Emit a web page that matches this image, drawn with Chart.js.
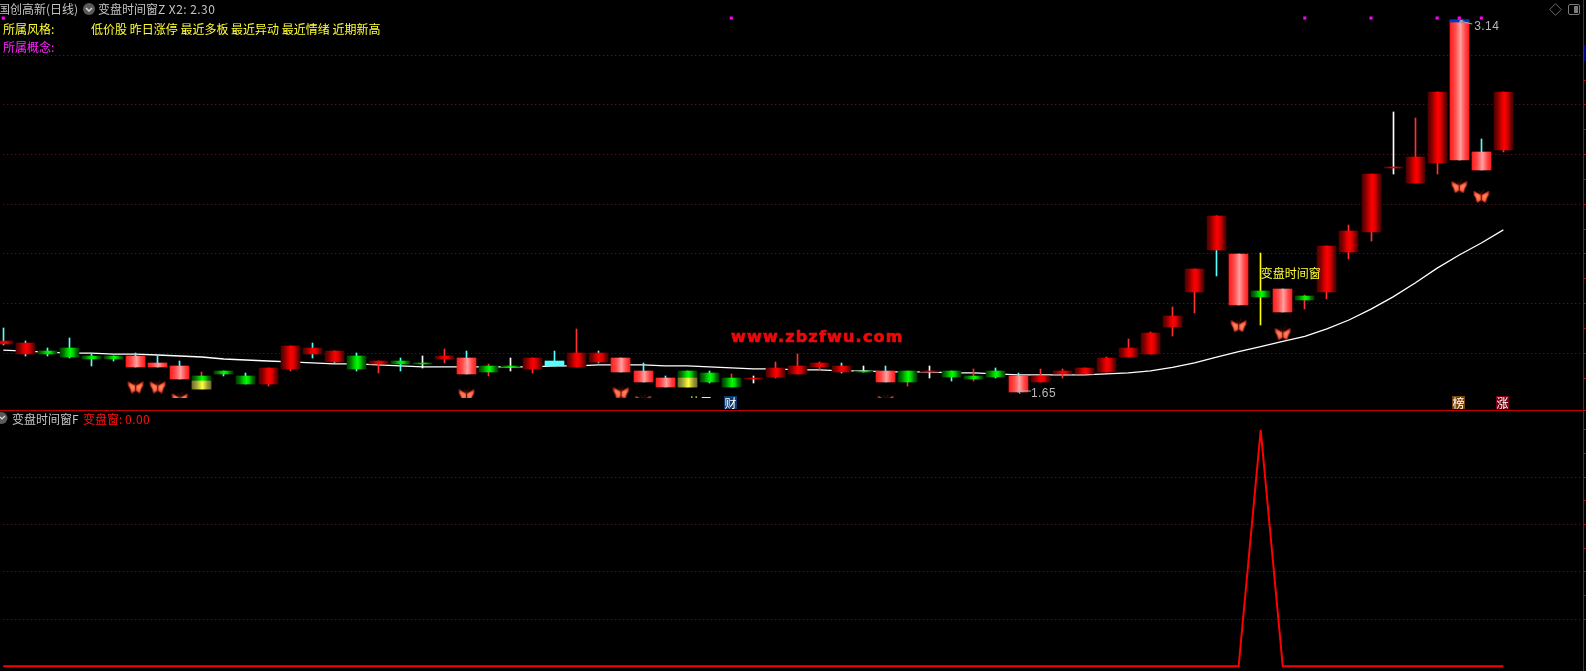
<!DOCTYPE html>
<html><head><meta charset="utf-8">
<style>
html,body{margin:0;padding:0;background:#000;width:1586px;height:671px;overflow:hidden}
canvas{position:absolute;left:0;display:block}
.t{position:absolute;white-space:pre;font:12px/18px "Noto Sans CJK SC","Liberation Sans",sans-serif}
.g{color:#c4c4c4}.y{color:#ffff33}.m{color:#ff22ff}.r{color:#ff1010}
.l{letter-spacing:.45px}
.b{position:absolute;width:13px;height:13px;color:#fff;font:12px/13px "Noto Sans CJK SC",sans-serif;text-align:center}
svg{position:absolute}
</style>
<script src="https://cdn.jsdelivr.net/npm/chart.js@4/dist/chart.umd.min.js"></script>
</head><body>
<canvas id="top" width="1586" height="410" style="top:0"></canvas>
<canvas id="bot" width="1586" height="260" style="top:411px"></canvas>
<div style="position:absolute;left:0;top:410px;width:1586px;height:1px;background:#c00000"></div>
<div style="position:absolute;left:1584px;top:45px;width:2px;height:16px;background:#000090"></div>

<span class="t g" style="left:-2px;top:0">国创高新(日线)</span>
<svg style="left:83px;top:3px" width="12" height="12"><circle cx="6" cy="6" r="6" fill="#5a5a5a"/><path d="M3 5l3 3 3-3" stroke="#ddd" stroke-width="1.4" fill="none"/></svg>
<span class="t g" style="left:98px;top:0">变盘时间窗<span class="l">Z X2: 2.30</span></span>
<span class="t y" style="left:3px;top:20px">所属风格:</span>
<span class="t y" style="left:91px;top:20px">低价股 昨日涨停 最近多板 最近异动 最近情绪 近期新高</span>
<span class="t m" style="left:3px;top:38px">所属概念:</span>
<svg style="left:1549px;top:3px" width="32" height="13"><path d="M6.5 .7L12.3 6.5 6.5 12.3 .7 6.5z" stroke="#6a6a6a" fill="none"/><rect x="19.5" y="1.5" width="11" height="10" rx="1.5" stroke="#7a7a7a" fill="none"/><rect x="25" y="3" width="4" height="7" fill="#7a7a7a"/></svg>
<svg style="left:0;top:412px" width="8" height="12"><circle cx="1.5" cy="6" r="6" fill="#5a5a5a"/><path d="M0 5l2 2 3-3" stroke="#ddd" stroke-width="1.2" fill="none"/></svg>
<span class="t g" style="left:12px;top:410px">变盘时间窗F</span>
<span class="t r" style="left:83px;top:410px">变盘窗: <span class="l">0.00</span></span>
<span class="b" style="left:724px;top:396px;background:#0a3a70">财</span>
<span class="b" style="left:1452px;top:396px;background:#7a4208">榜</span>
<span class="b" style="left:1496px;top:396px;background:#7a0010">涨</span>

<script>
const opens=[1.837,1.797,1.809,1.821,1.789,1.789,1.745,1.745,1.697,1.709,1.729,1.709,1.676,1.737,1.797,1.765,1.789,1.757,1.769,1.761,1.777,1.717,1.749,1.749,1.737,1.749,1.745,1.765,1.725,1.684,1.664,1.729,1.721,1.701,1.697,1.705,1.717,1.745,1.725,1.729,1.684,1.729,1.725,1.729,1.709,1.729,1.644,1.684,1.717,1.717,1.725,1.785,1.797,1.906,2.047,2.216,1.994,2.051,1.966,2.031,2.047,2.208,2.288,2.546,2.486,2.566,2.578,2.538,2.619];
const closes=[1.850,1.841,1.797,1.785,1.777,1.777,1.789,1.761,1.749,1.656,1.717,1.676,1.741,1.829,1.821,1.809,1.737,1.769,1.757,1.757,1.789,1.781,1.725,1.745,1.781,1.769,1.801,1.801,1.781,1.729,1.701,1.664,1.684,1.664,1.701,1.741,1.749,1.761,1.749,1.725,1.729,1.684,1.729,1.705,1.697,1.705,1.709,1.709,1.729,1.741,1.781,1.821,1.882,1.950,2.140,2.353,2.200,2.027,2.059,2.015,2.232,2.293,2.522,2.550,2.590,2.852,3.142,2.611,2.852];
const highs=[1.902,1.850,1.821,1.862,1.797,1.789,1.801,1.789,1.769,1.725,1.729,1.721,1.741,1.829,1.841,1.809,1.801,1.769,1.781,1.789,1.817,1.809,1.757,1.781,1.781,1.809,1.898,1.809,1.781,1.761,1.709,1.729,1.729,1.717,1.709,1.765,1.797,1.765,1.761,1.749,1.749,1.729,1.749,1.729,1.737,1.741,1.721,1.737,1.737,1.741,1.785,1.858,1.886,1.986,2.140,2.353,2.200,2.204,2.059,2.035,2.232,2.317,2.522,2.772,2.748,2.852,3.142,2.663,2.852];
const lows=[1.833,1.789,1.789,1.781,1.749,1.769,1.745,1.745,1.697,1.656,1.709,1.676,1.668,1.729,1.781,1.761,1.729,1.721,1.729,1.741,1.761,1.717,1.709,1.729,1.721,1.749,1.745,1.761,1.725,1.684,1.664,1.664,1.680,1.664,1.680,1.701,1.717,1.733,1.721,1.725,1.684,1.668,1.701,1.688,1.688,1.701,1.644,1.684,1.701,1.717,1.725,1.785,1.797,1.870,1.962,2.111,1.994,1.914,1.966,1.978,2.019,2.180,2.252,2.522,2.486,2.522,2.578,2.538,2.611];
// R red, P pink, G green, C cyan
const bodyKinds="RRGGGGPPPGGGRRRRGRGGRPGGRCRRPPPGGGRRRRRGPGRGGGPRRRRRRRRRPGPGRRRRRRPPR".split("");
// c cyan, r red, w white, y yellow
const wickKinds=("ccccccccc"+"r"+"cc"+"rr"+"ccc"+"r"+"c"+"w"+"r"+"c"+"r"+"w"+"r"+"c"+"r"+"cccccc"+"r"+"w"+"rrr"+"c"+"w"+"c"+"r"+"w"+"c"+"r"+"cc"+"rrrrrrrr"+"cc"+"y"+"c"+"rrrr"+"w"+"rr"+"cc"+"r").split("");
const maLine=[1.813,1.809,1.805,1.801,1.801,1.797,1.797,1.793,1.789,1.785,1.777,1.773,1.769,1.765,1.761,1.757,1.757,1.753,1.749,1.745,1.745,1.745,1.745,1.745,1.745,1.749,1.749,1.753,1.753,1.753,1.749,1.749,1.745,1.741,1.737,1.737,1.733,1.733,1.729,1.729,1.725,1.725,1.725,1.721,1.721,1.717,1.713,1.713,1.713,1.713,1.717,1.721,1.729,1.743,1.761,1.785,1.807,1.827,1.848,1.868,1.898,1.934,1.978,2.027,2.083,2.143,2.196,2.244,2.297];
const yellowIndex=[9,31];
const yellowTop=[1.688,1.701];
const yellowBottom=[1.656,1.664];
const capIndex=[66];
const capTop=[3.142];
const capBottom=[3.134];
const butterflyIndex=[6,7,8,21,28,29,40,56,58,66,67];
const butterflyPrice=[1.6655,1.6655,1.617,1.634,1.642,1.608,1.608,1.912,1.880,2.472,2.433];
const markerIndex=[0,33,59,62,65,66,67];
const markerPrice=3.150;
const priceTicks=[1.7,1.8,1.9,2.0,2.1,2.2,2.3,2.4,2.5,2.6,2.7,2.8,2.9,3.0];
const indicatorValues=opens.map(()=>0);
indicatorValues[57]=1;
const indicatorTicks=[0.2,0.3,0.4,0.5,0.6,0.7,0.8,0.9,1.0];

const wickColors={c:"#55ffff",r:"#ff3030",w:"#ffffff",y:"#ffff00"};
const bodyStops={
 R:[[0,"#4c0000"],[.2,"#880000"],[.4,"#dc0000"],[.55,"#ff0000"],[.7,"#d80000"],[.85,"#860000"],[1,"#4c0000"]],
 P:[[0,"#ff1c1c"],[.3,"#ff5050"],[.55,"#ffa0a0"],[.8,"#ff4848"],[1,"#ff1c1c"]],
 G:[[0,"#003c00"],[.2,"#007800"],[.4,"#00d000"],[.55,"#00ff00"],[.7,"#00cc00"],[.85,"#007000"],[1,"#003c00"]],
 Y:[[0,"#70702a"],[.25,"#a8a838"],[.55,"#ffff40"],[.8,"#a0a038"],[1,"#70702a"]]
};
function grad(c,kind){
 if(c.type!=="data")return "#f00";
 const x=c.chart.scales.x.getPixelForValue(c.raw.x);
 if(!isFinite(x))return "#f00";
 const l=Math.round(x-9.5);
 const g=c.chart.ctx.createLinearGradient(l,0,l+19,0);
 bodyStops[kind].forEach(s=>g.addColorStop(s[0],s[1]));
 return g;
}
function sprite(){
 const s=document.createElement("canvas");s.width=17;s.height=14;
 const k=s.getContext("2d");
 function wing(f){
  k.save();if(f){k.translate(17,0);k.scale(-1,1);}
  k.beginPath();k.moveTo(8.3,6);k.lineTo(1,2);k.quadraticCurveTo(.4,6,2.8,8.6);k.lineTo(4.4,13.4);k.quadraticCurveTo(7,12.4,8.3,10.5);k.closePath();
  const g=k.createRadialGradient(5,7.5,0,5,7.5,6.5);g.addColorStop(0,"#ff8a60");g.addColorStop(.6,"#ff6040");g.addColorStop(1,"#b82a18");
  k.fillStyle=g;k.fill();k.strokeStyle="rgba(170,35,20,.95)";k.lineWidth=.9;k.stroke();k.restore();
 }
 wing(false);wing(true);
 k.strokeStyle="#5a1008";k.lineWidth=1;
 k.beginPath();k.moveTo(8.5,12);k.lineTo(8.5,4);k.moveTo(8.5,5);k.lineTo(11,.5);k.moveTo(8,5);k.lineTo(6.5,1.5);k.stroke();
 return s;
}
const butterfly=sprite();
const crisp={id:"crisp",afterDatasetsUpdate(chart){
 chart.getSortedVisibleDatasetMetas().forEach(m=>{
  if(m.type!=="bar")return;
  m.data.forEach(el=>{
   const w=el.width,left=Math.round(el.x-w/2);
   el.x=left+w/2;el.y=Math.round(el.y);el.base=Math.round(el.base);
  });
 });
}};
const notes={id:"notes",afterDatasetsDraw(chart){
 const c=chart.ctx,xs=chart.scales.x,ys=chart.scales.y;
 c.save();c.textBaseline="middle";
 c.font='12px "Noto Sans CJK SC"';c.fillStyle="#ffff33";
 c.fillText("变盘时间窗",xs.getPixelForValue(57),ys.getPixelForValue(2.123));
 function mark(i,p,dy,txt,tx){
  const x=xs.getPixelForValue(i),y=ys.getPixelForValue(p);
  c.strokeStyle="#b0b0b0";c.lineWidth=1;c.beginPath();
  c.moveTo(x+13,y+dy);c.lineTo(x+.5,y+dy-(dy>2?3:0));c.moveTo(x+.5,y+dy-(dy>2?3:0));c.lineTo(x+4,y+dy-(dy>2?4:3));c.moveTo(x+.5,y+dy-(dy>2?3:0));c.lineTo(x+2,y+dy+(dy>2?0:3));c.stroke();
  c.font='12px "Liberation Sans"';c.fillStyle="#b8b8b8";c.letterSpacing=".4px";c.fillText(txt,x+tx,y+dy+3);c.letterSpacing="0px";
 }
 mark(46,1.644,-1,"1.65",13);
 mark(66,3.142,4,"3.14",15);
 c.font='bold 16px "DejaVu Sans"';c.letterSpacing="1.2px";c.fillStyle="#f00808";c.strokeStyle="#f00808";c.lineWidth=.7;c.textBaseline="alphabetic";
 c.fillText("www.zbzfwu.com",731,342);c.strokeText("www.zbzfwu.com",731,342);
 c.letterSpacing="0px";
 c.beginPath();c.rect(680,380,40,18);c.clip();
 c.font='12px "Noto Sans CJK SC"';c.fillStyle="#ffff33";c.textBaseline="middle";
 c.fillText("共用",688,402);
 c.restore();
}};
function xScale(){return {type:"linear",min:0,max:71.61,display:false,offset:false,grid:{display:false}};}
function yAxis(min,max,ticks,dot){
 return {min,max,position:"right",offset:false,
  ticks:{display:false,autoSkip:false},
  afterBuildTicks(a){a.ticks=ticks.map(v=>({value:v}));},
  afterFit(a){a.width=3;},
  border:{color:"#c00000",width:1,dash:[1,3]},
  grid:{color:c=>(c.tick&&Math.round(c.tick.value*10)%2===0&&Math.round(c.tick.value*10)!==10)?dot:"rgba(0,0,0,0)",
   lineWidth:1,tickColor:"#c00000",tickLength:3,tickWidth:1,tickBorderDash:[]}};
}
const barBase={type:"bar",grouped:false,barPercentage:1,categoryPercentage:1,clip:false,borderWidth:0};
const xy=(i,lo,hi)=>({x:i,y:[lo,hi]});
new Chart(document.getElementById("top"),{
 type:"bar",
 data:{datasets:[
  {type:"line",order:9,clip:false,data:maLine.map((v,i)=>({x:i,y:v})),borderColor:"#fff",borderWidth:1.3,pointRadius:0,tension:0},
  {...barBase,order:8,barThickness:1,data:opens.map((_,i)=>xy(i,lows[i],highs[i])),backgroundColor:c=>c.type==="data"?wickColors[wickKinds[c.dataIndex]]:"#fff"},
  {...barBase,order:7,barThickness:19,data:opens.map((o,i)=>xy(i,o,closes[i])),backgroundColor:c=>{
     if(c.type!=="data")return "#f00";
     const k=bodyKinds[c.dataIndex];
     return k==="C"?"#55ffff":grad(c,k);}},
  {...barBase,order:6,barThickness:19,data:yellowIndex.map((v,i)=>xy(v,yellowBottom[i],yellowTop[i])),backgroundColor:c=>grad(c,"Y")},
  {...barBase,order:5,barThickness:19,data:capIndex.map((v,i)=>xy(v,capBottom[i],capTop[i])),backgroundColor:"#0038c8"},
  {type:"scatter",order:2,clip:{left:5,top:5,right:5,bottom:-12},data:butterflyIndex.map((v,i)=>({x:v,y:butterflyPrice[i]})),pointStyle:butterfly,pointRadius:8},
  {type:"scatter",order:1,clip:false,data:markerIndex.map(v=>({x:v,y:markerPrice})),pointStyle:"rect",pointRadius:2.2,pointBorderWidth:0,backgroundColor:"#ff00ff",borderWidth:0}
 ]},
 options:{responsive:false,animation:false,devicePixelRatio:1,events:[],
  layout:{autoPadding:false,padding:{left:3.3,right:0,top:0,bottom:0}},
  plugins:{legend:{display:false},tooltip:{enabled:false}},
  scales:{x:xScale(),y:yAxis(1.5716,3.2227,priceTicks,"#901010")}},
 plugins:[crisp,notes]
});
new Chart(document.getElementById("bot"),{
 type:"line",
 data:{datasets:[{data:indicatorValues.map((v,i)=>({x:i,y:v})),borderColor:"#ff0000",borderWidth:2,pointRadius:0,tension:0,clip:false}]},
 options:{responsive:false,animation:false,devicePixelRatio:1,events:[],
  layout:{autoPadding:false,padding:{left:3.3,right:0,top:0,bottom:0}},
  plugins:{legend:{display:false},tooltip:{enabled:false}},
  scales:{x:xScale(),y:yAxis(-0.0199,1.0804,indicatorTicks,"#702018")}}
});
</script>
</body></html>
